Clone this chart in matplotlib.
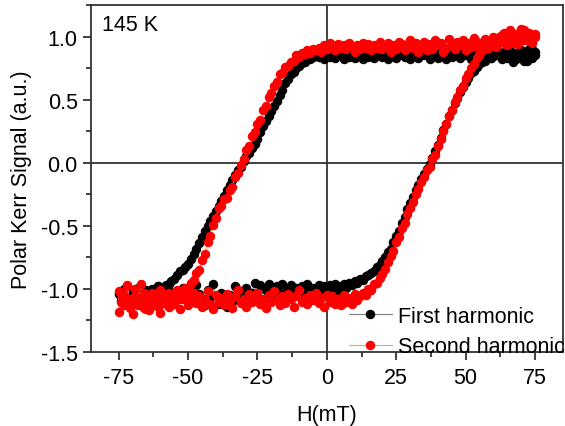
import matplotlib
matplotlib.use("Agg")
import matplotlib.pyplot as plt
from matplotlib.ticker import MultipleLocator

plt.rcParams['font.family'] = ['Liberation Sans', 'DejaVu Sans']
plt.rcParams['axes.unicode_minus'] = False

# field sweep (mT), 75 -> -75 (down) then back (up)
field_down = [75, 74, 73, 72, 71, 70, 69, 68, 67, 66,
              65, 64, 63, 62, 61, 60, 59, 58, 57, 56,
              55, 54, 53, 52, 51, 50, 49, 48, 47, 46,
              45, 44, 43, 42, 41, 40, 39, 38, 37, 36,
              35, 34, 33, 32, 31, 30, 29, 28, 27, 26,
              25, 24, 23, 22, 21, 20, 19, 18, 17, 16,
              15, 14, 13, 12, 11, 10, 9, 8, 7, 6,
              5, 4, 3, 2, 1, 0, -1, -2, -3, -4,
              -5, -6, -7, -8, -9, -10, -11, -12, -13, -14,
              -15, -16, -17, -18, -19, -20, -21, -22, -23, -24,
              -25, -26, -27, -28, -29, -30, -31, -32, -33, -34,
              -35, -36, -37, -38, -39, -40, -41, -42, -43, -44,
              -45, -46, -47, -48, -49, -50, -51, -52, -53, -54,
              -55, -56, -57, -58, -59, -60, -61, -62, -63, -64,
              -65, -66, -67, -68, -69, -70, -71, -72, -73, -74,
              -75]
field_up = field_down[::-1]

# first harmonic (black)
first_down = [0.88, 0.83, 0.90, 0.85, 0.81, 0.89, 0.84, 0.87, 0.80, 0.86,
              0.91, 0.84, 0.82, 0.88, 0.85, 0.90, 0.83, 0.87, 0.81, 0.86,
              0.89, 0.84, 0.87, 0.82, 0.88, 0.85, 0.91, 0.83, 0.86, 0.89,
              0.84, 0.87, 0.82, 0.88, 0.85, 0.83, 0.89, 0.86, 0.82, 0.87,
              0.85, 0.90, 0.83, 0.86, 0.88, 0.82, 0.87, 0.84, 0.89, 0.85,
              0.83, 0.88, 0.86, 0.82, 0.87, 0.84, 0.89, 0.85, 0.83, 0.87,
              0.84, 0.86, 0.82, 0.88, 0.85, 0.83, 0.87, 0.84, 0.86, 0.82,
              0.85, 0.87, 0.83, 0.86, 0.84, 0.85, 0.82, 0.86, 0.84, 0.85,
              0.84, 0.82, 0.83, 0.80, 0.79, 0.77, 0.75, 0.72, 0.70, 0.66,
              0.63, 0.58, 0.54, 0.49, 0.45, 0.41, 0.37, 0.33, 0.29, 0.24,
              0.19, 0.15, 0.12, 0.08, 0.05, 0.01, -0.03, -0.06, -0.10, -0.14,
              -0.18, -0.22, -0.26, -0.30, -0.34, -0.38, -0.42, -0.46, -0.50, -0.54,
              -0.59, -0.64, -0.68, -0.72, -0.76, -0.80, -0.83, -0.85, -0.86, -0.89,
              -0.92, -0.94, -0.96, -0.97, -0.99, -1.01, -0.98, -1.03, -1.00, -1.05,
              -1.02, -1.06, -0.99, -1.04, -1.08, -1.01, -1.05, -0.98, -1.07, -1.03,
              -1.04]
first_up = [-1.03, -1.09, -1.00, -1.06, -1.12, -1.02, -1.08, -0.99, -1.05, -1.11,
            -1.01, -1.07, -1.13, -1.04, -0.98, -1.09, -1.05, -1.10, -1.02, -1.07,
            -1.12, -1.03, -1.08, -0.99, -1.06, -1.11, -1.02, -1.07, -0.97, -1.04,
            -1.09, -1.13, -1.01, -1.06, -0.96, -1.08, -1.12, -1.03, -1.07, -1.14,
            -1.05, -1.10, -0.98, -1.06, -1.02, -1.11, -0.99, -1.07, -1.03, -0.95,
            -1.06, -0.97, -1.09, -1.01, -0.96, -1.05, -1.08, -0.98, -1.03, -0.96,
            -1.07, -1.00, -0.97, -1.04, -0.99, -1.06, -0.98, -1.02, -0.96, -1.04,
            -0.99, -1.03, -0.97, -1.01, -0.98, -1.04, -0.97, -1.00, -0.96, -1.02,
            -0.98, -0.96, -0.99, -0.95, -0.97, -0.94, -0.95, -0.92, -0.93, -0.90,
            -0.89, -0.87, -0.86, -0.83, -0.81, -0.78, -0.75, -0.71, -0.68, -0.63,
            -0.58, -0.54, -0.48, -0.43, -0.37, -0.32, -0.27, -0.22, -0.18, -0.13,
            -0.09, -0.05, -0.01, 0.04, 0.09, 0.14, 0.20, 0.26, 0.31, 0.37,
            0.42, 0.47, 0.51, 0.56, 0.60, 0.64, 0.67, 0.71, 0.73, 0.76,
            0.78, 0.80, 0.82, 0.84, 0.83, 0.86, 0.85, 0.88, 0.84, 0.87,
            0.83, 0.89, 0.85, 0.82, 0.88, 0.84, 0.87, 0.81, 0.86, 0.90,
            0.85]

# second harmonic (red)
second_down = [1.00, 0.95, 1.03, 0.97, 1.05, 0.99, 0.94, 1.02, 0.97, 1.04,
               0.93, 0.99, 1.01, 0.95, 0.92, 1.00, 0.96, 0.91, 0.98, 0.94,
               0.90, 0.96, 0.99, 0.92, 0.95, 0.89, 0.97, 0.93, 0.96, 0.90,
               0.94, 0.98, 0.91, 0.88, 0.95, 0.93, 0.97, 0.90, 0.94, 0.89,
               0.96, 0.92, 0.88, 0.95, 0.91, 0.97, 0.93, 0.89, 0.94, 0.96,
               0.90, 0.93, 0.88, 0.95, 0.92, 0.90, 0.96, 0.91, 0.93, 0.89,
               0.94, 0.91, 0.95, 0.90, 0.93, 0.88, 0.92, 0.95, 0.90, 0.93,
               0.91, 0.94, 0.89, 0.92, 0.95, 0.90, 0.93, 0.88, 0.91, 0.89,
               0.90, 0.87, 0.89, 0.86, 0.87, 0.84, 0.85, 0.81, 0.80, 0.77,
               0.76, 0.71, 0.70, 0.64, 0.61, 0.55, 0.52, 0.45, 0.42, 0.34,
               0.31, 0.24, 0.21, 0.13, 0.10, 0.03, -0.02, -0.08, -0.11, -0.19,
               -0.22, -0.28, -0.29, -0.34, -0.36, -0.44, -0.49, -0.58, -0.63, -0.72,
               -0.77, -0.85, -0.87, -0.93, -0.95, -1.00, -0.99, -1.05, -1.02, -1.08,
               -1.04, -1.10, -1.03, -1.12, -1.06, -1.01, -1.14, -1.08, -1.05, -1.11,
               -1.16, -1.03, -1.09, -1.13, -1.00, -1.07, -1.15, -0.97, -1.05, -1.10,
               -1.02]
second_up = [-1.18, -1.04, -1.13, -0.98, -1.09, -1.20, -1.06, -1.11, -0.96, -1.15,
             -1.08, -1.17, -1.03, -1.12, -1.06, -1.19, -1.10, -1.04, -1.14, -1.07,
             -1.12, -1.01, -1.16, -1.08, -1.05, -1.13, -1.09, -1.03, -1.11, -1.06,
             -1.14, -1.08, -1.02, -1.12, -1.16, -1.05, -1.10, -1.07, -1.13, -1.04,
             -1.09, -1.15, -1.06, -1.01, -1.11, -1.08, -1.14, -1.04, -1.10, -1.07,
             -1.03, -1.12, -1.08, -1.15, -1.05, -1.10, -1.02, -1.09, -1.13, -1.06,
             -1.11, -1.04, -1.08, -1.14, -1.06, -1.01, -1.10, -1.07, -1.12, -1.05,
             -1.09, -1.03, -1.11, -1.07, -1.14, -1.05, -1.10, -1.06, -1.12, -1.08,
             -1.13, -1.05, -1.10, -1.07, -1.12, -1.04, -1.09, -1.06, -1.03, -1.05,
             -1.00, -1.01, -0.96, -0.95, -0.91, -0.88, -0.84, -0.79, -0.74, -0.70,
             -0.63, -0.59, -0.52, -0.48, -0.41, -0.36, -0.31, -0.25, -0.21, -0.15,
             -0.11, -0.06, -0.03, 0.03, 0.06, 0.13, 0.19, 0.25, 0.31, 0.37,
             0.42, 0.48, 0.52, 0.58, 0.61, 0.67, 0.70, 0.75, 0.78, 0.83,
             0.85, 0.89, 0.90, 0.94, 0.93, 0.97, 0.95, 1.00, 0.96, 1.03,
             0.98, 1.05, 0.95, 1.02, 0.99, 1.06, 0.97, 1.03, 1.00, 0.96,
             1.02]

fig = plt.figure(figsize=(5.65, 4.27), dpi=100)
ax = fig.add_axes([0.161, 0.1733, 0.835, 0.8126])

ax.axhline(0, color='#333333', lw=1.3, zorder=1)
ax.axvline(0, color='#333333', lw=1.3, zorder=1)

ax.plot(field_down + field_up, first_down + first_up, '-o', color='#808080',
        lw=0.8, mfc='black', mec='black', ms=5.8, label='First harmonic', zorder=2)
ax.plot(field_down + field_up, second_down + second_up, '-o', color='#ff9090',
        lw=0.8, mfc='red', mec='red', ms=5.8, label='Second harmonic', zorder=3)

ax.set_xlim(-85, 85)
ax.set_ylim(-1.5, 1.25)
ax.xaxis.set_major_locator(MultipleLocator(25))
ax.xaxis.set_minor_locator(MultipleLocator(12.5))
ax.yaxis.set_major_locator(MultipleLocator(0.5))
ax.yaxis.set_minor_locator(MultipleLocator(0.25))
ax.tick_params(which='both', direction='out', width=1.3, color='#333333', labelsize=15.5)
ax.tick_params(which='major', length=6)
ax.tick_params(which='minor', length=3.5)
ax.tick_params(axis='x', pad=5)
for sp in ax.spines.values():
    sp.set_linewidth(1.3)
    sp.set_color('#333333')

ax.set_xlabel('H(mT)', fontsize=15.5, labelpad=11)
ax.set_ylabel('Polar Kerr Signal (a.u.)', fontsize=15.5, labelpad=6)
ax.text(0.023, 0.975, '145 K', transform=ax.transAxes, fontsize=15.5, va='top')

ax.legend(loc='lower right', bbox_to_anchor=(1.005, -0.015), frameon=False, fontsize=15.5,
          handlelength=2.0, handletextpad=0.3, labelspacing=0.45, borderpad=0,
          borderaxespad=0)

plt.savefig('out.png', dpi=100)
